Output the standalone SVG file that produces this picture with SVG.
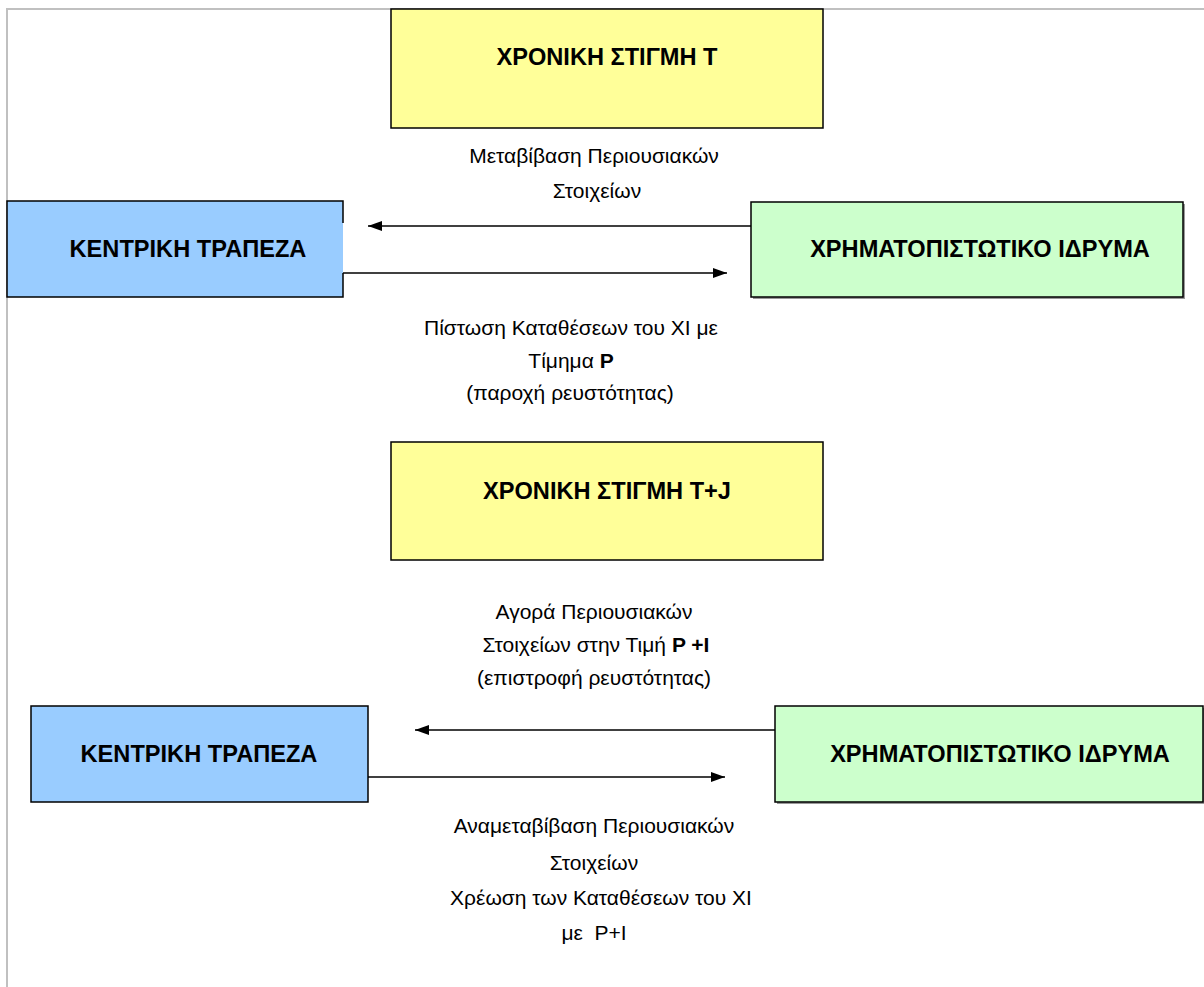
<svg xmlns="http://www.w3.org/2000/svg" width="1204" height="987" viewBox="0 0 1204 987">
<style>
.bx{stroke:#000;stroke-width:1.5}
.yel{fill:#FFFF99}
.blu{fill:#99CCFF}
.grn{fill:#CCFFCC}
.ttl{font-family:"Liberation Sans",Arial,sans-serif;font-weight:bold;font-size:23.6px;fill:#000;text-anchor:middle}
.lbl{font-family:"Liberation Sans",Arial,sans-serif;font-size:21px;fill:#000;text-anchor:middle}
.ln{stroke:#000;stroke-width:1.5;fill:none}
</style>
<defs>
<marker id="ah" viewBox="0 0 14 10" refX="14" refY="5" markerWidth="14" markerHeight="10" markerUnits="userSpaceOnUse" orient="auto">
<path d="M0,0 L14,5 L0,10 Z" fill="#000"/>
</marker>
</defs>
<rect width="1204" height="987" fill="#fff"/>
<path d="M7,987 V9 H1204" stroke="#C0C0C0" stroke-width="2" fill="none"/>

<g id="t1">
<rect class="bx yel" x="391" y="9" width="432" height="119"/>
<text class="ttl" x="607" y="65">ΧΡΟΝΙΚΗ ΣΤΙΓΜΗ Τ</text>
</g>
<g id="cb1">
<rect class="blu" x="7" y="201" width="336" height="96"/>
<path class="ln" d="M343,223 V201 H7 V297 H343 V273"/>
<text class="ttl" x="188" y="257">ΚΕΝΤΡΙΚΗ ΤΡΑΠΕΖΑ</text>
</g>
<g id="fi1">
<rect x="753" y="204" width="432" height="95" fill="#999"/>
<rect class="bx grn" x="751" y="202" width="432" height="95"/>
<text class="ttl" x="980" y="257">ΧΡΗΜΑΤΟΠΙΣΤΩΤΙΚΟ ΙΔΡΥΜΑ</text>
</g>
<g id="t2">
<rect class="bx yel" x="391" y="442" width="432" height="118"/>
<text class="ttl" x="607" y="499">ΧΡΟΝΙΚΗ ΣΤΙΓΜΗ Τ+J</text>
</g>
<g id="cb2">
<rect class="bx blu" x="31" y="706" width="337" height="96"/>
<text class="ttl" x="199" y="762">ΚΕΝΤΡΙΚΗ ΤΡΑΠΕΖΑ</text>
</g>
<g id="fi2">
<rect x="777" y="708" width="430" height="96" fill="#999"/>
<rect class="bx grn" x="775" y="706" width="428" height="96"/>
<text class="ttl" x="1000" y="762">ΧΡΗΜΑΤΟΠΙΣΤΩΤΙΚΟ ΙΔΡΥΜΑ</text>
</g>

<g id="connectors">
<line class="ln" x1="751" y1="226" x2="368" y2="226" marker-end="url(#ah)"/>
<line class="ln" x1="343" y1="273" x2="727" y2="273" marker-end="url(#ah)"/>
<line class="ln" x1="775" y1="730" x2="415" y2="730" marker-end="url(#ah)"/>
<line class="ln" x1="368" y1="777" x2="725" y2="777" marker-end="url(#ah)"/>
</g>

<g id="labels">
<text class="lbl" x="594" y="163">Μεταβίβαση Περιουσιακών</text>
<text class="lbl" x="597" y="198">Στοιχείων</text>
<text class="lbl" x="571" y="335">Πίστωση Καταθέσεων του ΧΙ με</text>
<text class="lbl" x="571" y="368">Τίμημα <tspan font-weight="bold">P</tspan></text>
<text class="lbl" x="570" y="400">(παροχή ρευστότητας)</text>
<text class="lbl" x="594" y="619">Αγορά Περιουσιακών</text>
<text class="lbl" x="596" y="652">Στοιχείων στην Τιμή <tspan font-weight="bold">P +I</tspan></text>
<text class="lbl" x="594" y="685">(επιστροφή ρευστότητας)</text>
<text class="lbl" x="594" y="833">Αναμεταβίβαση Περιουσιακών</text>
<text class="lbl" x="594" y="870">Στοιχείων</text>
<text class="lbl" x="601" y="905">Χρέωση των Καταθέσεων του ΧΙ</text>
<text class="lbl" x="594" y="940">με&#160; P+I</text>
</g>
</svg>
